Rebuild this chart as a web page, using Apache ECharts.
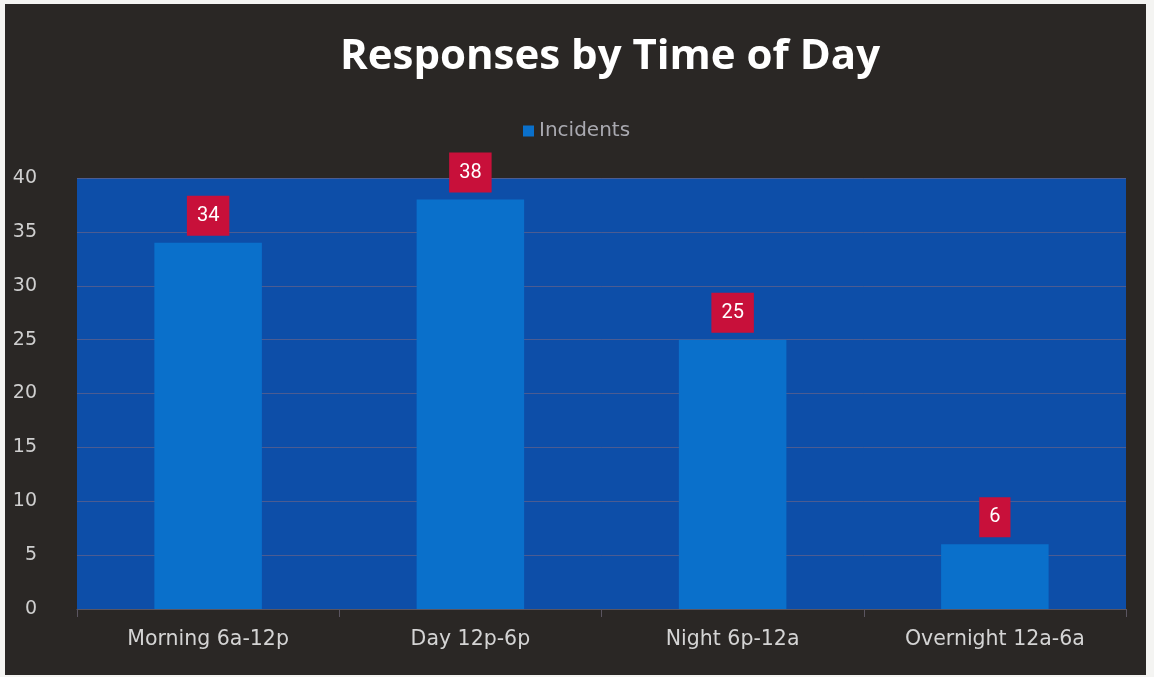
<!DOCTYPE html>
<html>
<head>
<meta charset="utf-8">
<script src="https://cdn.jsdelivr.net/npm/echarts@6/dist/echarts.min.js"></script>
<style>
  html, body { margin: 0; padding: 0; background: #f4f4f2; width: 1154px; height: 677px; overflow: hidden; }
  #chart { position: absolute; left: 5px; top: 4px; width: 1141px; height: 671px; }
</style>
</head>
<body>
<div id="chart"></div>
<script>
// data
const categories = ['Morning 6a-12p', 'Day 12p-6p', 'Night 6p-12a', 'Overnight 12a-6a']
const incidents = [34, 38, 25, 6]
const yTicks = [0, 5, 10, 15, 20, 25, 30, 35, 40]

const myChart = echarts.init(document.getElementById('chart'))

const option = {
  backgroundColor: '#2a2725',
  title: {
    text: 'Responses by Time of Day',
    left: 330,
    top: 27,
    textStyle: {
      color: '#ffffff',
      fontFamily: 'Open Sans',
      fontWeight: 'bold',
      fontSize: 42
    }
  },
  legend: {
    data: ['Incidents'],
    left: 513,
    top: 112,
    itemWidth: 11,
    itemHeight: 11,
    itemGap: 10,
    icon: 'rect',
    textStyle: {
      color: '#a9a9b0',
      fontFamily: 'DejaVu Sans',
      fontSize: 20
    }
  },
  grid: {
    left: 72,
    right: 20,
    top: 174,
    bottom: 66,
    show: true,
    backgroundColor: '#0d4ea8',
    borderWidth: 0
  },
  xAxis: {
    type: 'category',
    data: categories,
    axisLine: { show: true, lineStyle: { color: '#5a5560', width: 1 } },
    axisTick: { show: true, length: 8, lineStyle: { color: '#5a5560' } },
    axisLabel: {
      color: '#d4d4d4',
      fontFamily: 'DejaVu Sans',
      fontSize: 20.5,
      margin: 20
    }
  },
  yAxis: {
    type: 'value',
    min: yTicks[0],
    max: yTicks[yTicks.length - 1],
    interval: 5,
    axisLine: { show: false },
    axisTick: { show: false },
    splitLine: { lineStyle: { color: 'rgba(150,110,120,0.45)', width: 1 } },
    axisLabel: {
      color: '#cfcfcf',
      fontFamily: 'DejaVu Sans',
      fontSize: 19,
      margin: 40
    }
  },
  series: [
    {
      name: 'Incidents',
      type: 'bar',
      data: incidents,
      barWidth: '41%',
      itemStyle: { color: '#0a70cb' },
      label: {
        show: true,
        position: 'top',
        distance: 7,
        color: '#ffffff',
        fontFamily: 'Roboto',
        fontSize: 20,
        lineHeight: 20,
        backgroundColor: '#c8103a',
        padding: [10, 10]
      }
    }
  ]
}
myChart.setOption(option)
</script>
</body>
</html>
